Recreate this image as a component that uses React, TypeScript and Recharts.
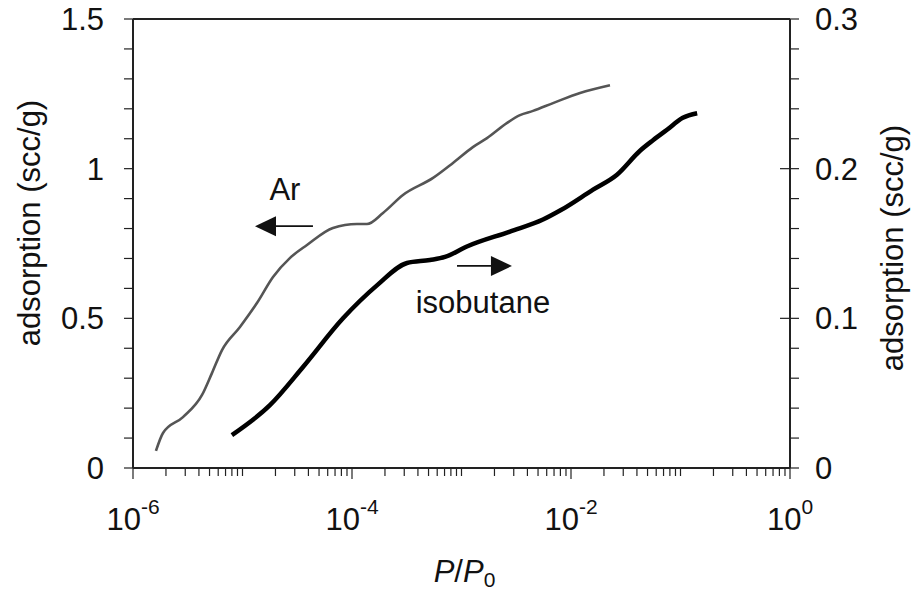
import React from 'react';
import { LineChart, Line, XAxis, YAxis, ReferenceLine, ReferenceDot, Label } from 'recharts';

// Ar isotherm (left axis, scc/g) vs relative pressure P/P0
const arPressure = [
  1.62e-6, 1.88e-6, 2.86e-6, 4.27e-6, 5.26e-6, 6.5e-6, 9.48e-6, 1.355e-5, 1.9e-5, 2.72e-5,
  3.88e-5, 6.7e-5, 1.11e-4, 1.37e-4, 1.92e-4, 2.92e-4, 5.5e-4, 8.36e-4, 1.27e-3, 1.71e-3,
  2.61e-3, 3.42e-3, 4.5e-3, 6.85e-3, 1.21e-2, 2.27e-2,
];
const arAdsorption = [
  0.057, 0.117, 0.17, 0.244, 0.317, 0.394, 0.471, 0.551, 0.638, 0.702,
  0.745, 0.802, 0.815, 0.815, 0.852, 0.912, 0.969, 1.019, 1.072, 1.102,
  1.153, 1.179, 1.193, 1.219, 1.253, 1.279,
];

// isobutane isotherm (right axis, scc/g)
const isoPressure = [
  8.0e-6, 1.78e-5, 3.57e-5, 8.28e-5, 1.69e-4, 3.18e-4, 5.15e-4, 7.06e-4, 1.12e-3, 2.77e-3,
  5.55e-3, 7.94e-3, 1.59e-2, 2.63e-2, 4.27e-2, 5.61e-2, 7.53e-2, 0.105, 0.142,
];
const isoAdsorption = [
  0.022, 0.042, 0.0675, 0.1, 0.122, 0.137, 0.139, 0.141, 0.148, 0.158,
  0.166, 0.172, 0.186, 0.196, 0.212, 0.219, 0.226, 0.234, 0.237,
];

const xDecades = [-6, -5, -4, -3, -2, -1, 0];
const xLabelledExponents = [-6, -4, -2, 0];
const leftTicks = [0, 0.1, 0.2, 0.3, 0.4, 0.5, 0.6, 0.7, 0.8, 0.9, 1, 1.1, 1.2, 1.3, 1.4, 1.5];
const leftLabels = ['0', '0.5', '1', '1.5'];
const rightTicks = [0, 0.02, 0.04, 0.06, 0.08, 0.1, 0.12, 0.14, 0.16, 0.18, 0.2, 0.22, 0.24, 0.26, 0.28, 0.3];
const rightLabels = ['0', '0.1', '0.2', '0.3'];

const arData = arPressure.map((p, i) => ({ p, ar: arAdsorption[i] }));
const isoData = isoPressure.map((p, i) => ({ p, iso: isoAdsorption[i] }));

// decade ticks plus 2..9 minor ticks
const xTicks: number[] = [];
xDecades.forEach((d) => {
  xTicks.push(Math.pow(10, d));
  if (d < 0) for (let m = 2; m <= 9; m++) xTicks.push(m * Math.pow(10, d));
});

const FONT = '"Liberation Sans", Arial, Helvetica, sans-serif';
const FS = 31;
const INK = '#222';

const XTick = (props: any) => {
  const { x, y, payload } = props;
  const lg = Math.log10(payload.value);
  const exp = Math.round(lg);
  const isDecade = Math.abs(lg - exp) < 1e-6;
  const labelled = isDecade && xLabelledExponents.includes(exp);
  return (
    <g>
      <line x1={x} y1={y} x2={x} y2={y + (labelled ? 11 : 8)} stroke={INK} strokeWidth={1.2} />
      {labelled && (
        <text x={x} y={y + 62} textAnchor="middle" fill="#111" fontFamily={FONT}>
          <tspan fontSize={FS}>10</tspan>
          <tspan fontSize={21} dy={-16}>{String(exp)}</tspan>
        </text>
      )}
    </g>
  );
};

const LeftTick = (props: any) => {
  const { x, y, payload } = props;
  const lbl = leftLabels.find((s) => Math.abs(parseFloat(s) - payload.value) < 1e-9);
  return (
    <g>
      <line x1={x - 9} y1={y} x2={x} y2={y} stroke={INK} strokeWidth={1.2} />
      {lbl && (
        <text x={x - 29} y={y + 11} textAnchor="end" fontSize={FS} fill="#111" fontFamily={FONT}>
          {lbl}
        </text>
      )}
    </g>
  );
};

const RightTick = (props: any) => {
  const { x, y, payload } = props;
  const lbl = rightLabels.find((s) => Math.abs(parseFloat(s) - payload.value) < 1e-9);
  return (
    <g>
      <line x1={lbl ? x - 10 : x} y1={y} x2={x + 9} y2={y} stroke={INK} strokeWidth={1.2} />
      {lbl && (
        <text x={x + 25} y={y + 11} textAnchor="start" fontSize={FS} fill="#111" fontFamily={FONT}>
          {lbl}
        </text>
      )}
    </g>
  );
};

const VerticalTitle = ({ viewBox, dx, cy }: any) => {
  const cx = viewBox.x + dx;
  return (
    <text
      x={cx}
      y={cy}
      transform={`rotate(-90, ${cx}, ${cy})`}
      textAnchor="middle"
      fontSize={FS}
      fill="#111"
      fontFamily={FONT}
    >
      adsorption (scc/g)
    </text>
  );
};

const XTitle = ({ viewBox }: any) => (
  <text x={viewBox.x + viewBox.width / 2 + 3} y={viewBox.y + 114} textAnchor="middle" fill="#111" fontFamily={FONT}>
    <tspan fontSize={FS} fontStyle="italic">P</tspan>
    <tspan fontSize={FS}>/</tspan>
    <tspan fontSize={FS} fontStyle="italic">P</tspan>
    <tspan fontSize={21} dy={5}>0</tspan>
  </text>
);

const Arrow = (props: any) => {
  const { x1, y1, x2, y2 } = props;
  const dir = x2 > x1 ? 1 : -1;
  const headLen = 21;
  const half = 10;
  return (
    <g>
      <line x1={x1} y1={y1} x2={x2 - dir * headLen} y2={y2} stroke="#111" strokeWidth={1.8} />
      <polygon points={`${x2},${y2} ${x2 - dir * headLen},${y2 - half} ${x2 - dir * headLen},${y2 + half}`} fill="#111" />
    </g>
  );
};

const textShape = (txt: string) => (props: any) => (
  <text x={props.cx} y={props.cy} textAnchor="middle" fontSize={FS} fill="#111" fontFamily={FONT}>
    {txt}
  </text>
);

export default function App() {
  return (
    <div style={{ position: 'absolute', left: 0, top: 0, background: '#fff' }}>
      <LineChart width={912} height={591} margin={{ top: 19, right: 0, bottom: 0, left: 0 }}>
        <XAxis
          dataKey="p"
          type="number"
          scale="log"
          domain={[1e-6, 1]}
          allowDataOverflow
          ticks={xTicks}
          interval={0}
          height={123}
          tickSize={0}
          tickMargin={0}
          tickLine={false}
          tick={<XTick />}
          axisLine={{ stroke: INK, strokeWidth: 2 }}
        >
          <Label content={<XTitle />} />
        </XAxis>
        <YAxis
          yAxisId="left"
          orientation="left"
          type="number"
          domain={[0, 1.5]}
          ticks={leftTicks}
          interval={0}
          width={133}
          tickSize={0}
          tickMargin={0}
          tickLine={false}
          tick={<LeftTick />}
          axisLine={{ stroke: INK, strokeWidth: 2 }}
        >
          <Label content={<VerticalTitle dx={40} cy={223} />} />
        </YAxis>
        <YAxis
          yAxisId="right"
          orientation="right"
          type="number"
          domain={[0, 0.3]}
          ticks={rightTicks}
          interval={0}
          width={122}
          tickSize={0}
          tickMargin={0}
          tickLine={false}
          tick={<RightTick />}
          axisLine={{ stroke: INK, strokeWidth: 2 }}
        >
          <Label content={<VerticalTitle dx={113} cy={248} />} />
        </YAxis>
        <ReferenceLine yAxisId="left" y={1.5} stroke={INK} strokeWidth={2} />
        <Line
          data={arData}
          yAxisId="left"
          dataKey="ar"
          type="monotone"
          stroke="#555"
          strokeWidth={2.6}
          dot={false}
          isAnimationActive={false}
        />
        <Line
          data={isoData}
          yAxisId="right"
          dataKey="iso"
          type="monotone"
          stroke="#000"
          strokeWidth={4.5}
          dot={false}
          isAnimationActive={false}
        />
        <ReferenceLine
          yAxisId="left"
          segment={[{ x: 4.4e-5, y: 0.808 }, { x: 1.3e-5, y: 0.808 }]}
          shape={<Arrow />}
        />
        <ReferenceLine
          yAxisId="left"
          segment={[{ x: 9.1e-4, y: 0.675 }, { x: 2.89e-3, y: 0.675 }]}
          shape={<Arrow />}
        />
        <ReferenceDot yAxisId="left" x={2.44e-5} y={0.895} shape={textShape('Ar')} />
        <ReferenceDot yAxisId="left" x={1.57e-3} y={0.518} shape={textShape('isobutane')} />
      </LineChart>
    </div>
  );
}
